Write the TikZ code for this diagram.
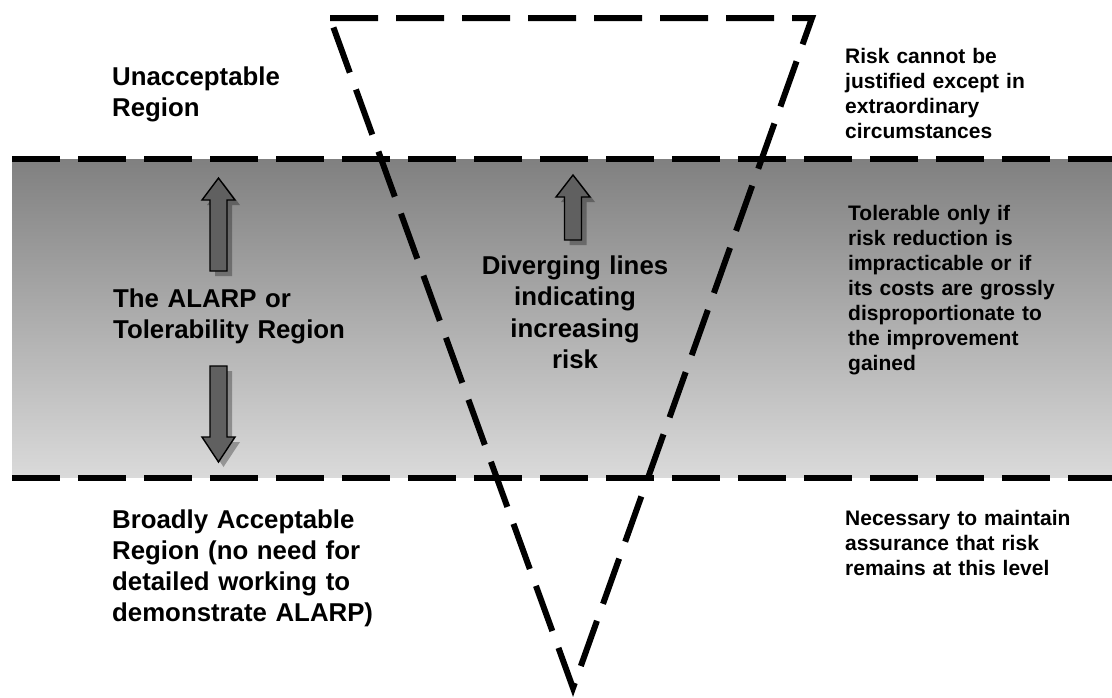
\documentclass[tikz,border=0pt]{standalone}
\usepackage{fontspec}
\setmainfont{Liberation Sans}
\usetikzlibrary{shadows}
\definecolor{bandtop}{HTML}{808080}
\definecolor{bandbot}{HTML}{DADADA}
\definecolor{arrowgray}{HTML}{606060}
\begin{document}
\begin{tikzpicture}[x=1pt,y=-1pt,
  dashline/.style={draw=black, line width=6pt, dash pattern=on 48pt off 18pt},
  blockarr/.style={fill=arrowgray, draw=black, line width=1.4pt, line join=miter,
    drop shadow={shadow xshift=5pt, shadow yshift=-5pt, fill=black, opacity=0.3}},
  bigtxt/.style={font=\fontsize{25.8}{31}\selectfont\bfseries, text width=330pt, align=left, inner sep=0pt, anchor=base west},
  smalltxt/.style={font=\fontsize{21}{25}\selectfont\bfseries, text width=260pt, align=left, inner sep=0pt, anchor=base west}]
\useasboundingbox (0,0) rectangle (1112,697);
\fill[white] (0,0) rectangle (1112,697);
% tolerability band
\fill[top color=bandtop, bottom color=bandbot] (12,159) rectangle (1112,477.5);
\coordinate (bandtl) at (12,159);
\coordinate (bandtr) at (1112,159);
\coordinate (bandbl) at (12,477.5);
\coordinate (bandbr) at (1112,477.5);
\draw[dashline] (bandtl) -- (bandtr);
\draw[dashline] (bandbl) -- (bandbr);
% inverted triangle
\coordinate (tritl) at (330,18);
\coordinate (tritr) at (812,18);
\coordinate (triap) at (573,688);
\draw[dashline, line join=miter] (tritl) -- (tritr) -- (triap) -- cycle;
% block arrows
\draw[blockarr] (218.5,178) -- (235,200) -- (227,200) -- (227,271) -- (210,271) -- (210,200) -- (202,200) -- cycle;
\draw[blockarr] (210,366) -- (227,366) -- (227,437) -- (235,437) -- (218.5,462) -- (202,437) -- (210,437) -- cycle;
\draw[blockarr] (573,175) -- (590,197) -- (581.5,197) -- (581.5,240) -- (564.5,240) -- (564.5,197) -- (556,197) -- cycle;
% texts
\node[bigtxt] (unacc) at (112,85) {Unacceptable\\Region};
\node[bigtxt] (alarp) at (113,307) {The ALARP or\\Tolerability Region};
\node[bigtxt] (broad) at (112,528) {Broadly Acceptable\\Region (no need for\\detailed working to\\demonstrate ALARP)};
\node[bigtxt, font=\fontsize{25.8}{31.5}\selectfont\bfseries, text width=300pt, align=center, anchor=base] (diverg) at (575,274) {Diverging lines\\indicating\\increasing\\risk};
\node[smalltxt] (riskc) at (845,63) {Risk cannot be\\justified except in\\extraordinary\\circumstances};
\node[smalltxt] (toler) at (848,220) {Tolerable only if\\risk reduction is\\impracticable or if\\its costs are grossly\\disproportionate to\\the improvement\\gained};
\node[smalltxt] (necess) at (845,525) {Necessary to maintain\\assurance that risk\\remains at this level};
\end{tikzpicture}
\end{document}
